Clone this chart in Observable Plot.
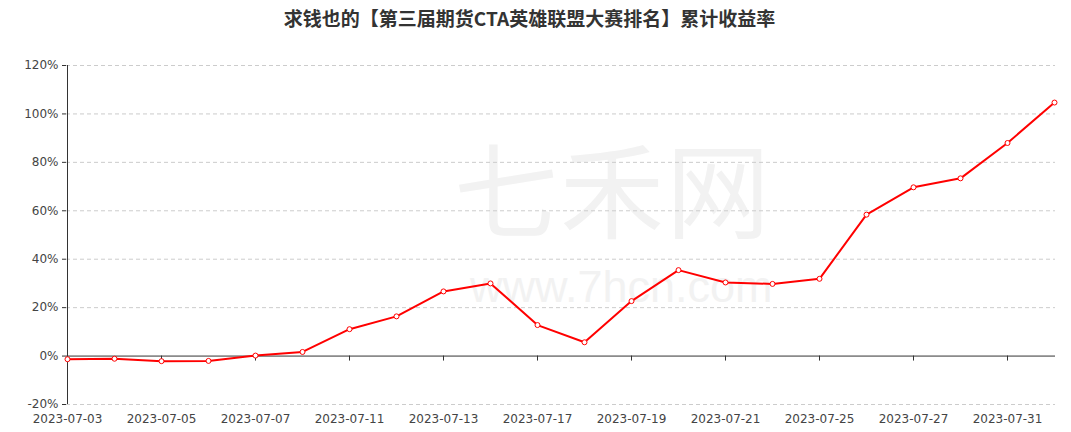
<!DOCTYPE html>
<html>
<head>
<meta charset="utf-8">
<script src="https://cdn.jsdelivr.net/npm/d3@7"></script>
<script src="https://cdn.jsdelivr.net/npm/@observablehq/plot@0.6"></script>
<style>
  html, body { margin: 0; padding: 0; background: #fff; }
  #wrap { position: relative; width: 1071px; height: 432px; overflow: hidden; }
  #title { height: 40px; line-height: 36px; text-align: center; font-family: "Noto Sans CJK SC", sans-serif; font-weight: bold; font-size: 19px; color: #333; padding-right: 12px; }
  #wm1 { position: absolute; left: 454px; top: 134px; font-family: "Noto Sans CJK SC", sans-serif; font-size: 104px; color: #f2f2f2; letter-spacing: 2px; line-height: 1; z-index: 0; }
  #wm2 { position: absolute; left: 470px; top: 264px; font-family: "Liberation Sans", sans-serif; font-size: 45px; color: #f2f2f2; line-height: 1; z-index: 0; }
  #chart { position: relative; z-index: 1; }
</style>
</head>
<body>
<div id="wrap">
  <div id="title"></div>
  <div id="wm1">七禾网</div>
  <div id="wm2">www.7hcn.com</div>
  <div id="chart"></div>
</div>
<script>
const title = "求钱也的【第三届期货CTA英雄联盟大赛排名】累计收益率";
const dates = ["2023-07-03","2023-07-04","2023-07-05","2023-07-06","2023-07-07","2023-07-10","2023-07-11","2023-07-12","2023-07-13","2023-07-14","2023-07-17","2023-07-18","2023-07-19","2023-07-20","2023-07-21","2023-07-24","2023-07-25","2023-07-26","2023-07-27","2023-07-28","2023-07-31","2023-08-01"];
const returns = [-1.3,-1.1,-2.1,-2.0,0.2,1.7,11.1,16.4,26.7,30.0,12.8,5.7,22.7,35.5,30.4,29.8,31.9,58.4,69.7,73.4,88.0,104.7];
const labeledDates = ["2023-07-03","2023-07-05","2023-07-07","2023-07-11","2023-07-13","2023-07-17","2023-07-19","2023-07-21","2023-07-25","2023-07-27","2023-07-31"];
const yTicks = [-20,0,20,40,60,80,100,120];

document.getElementById("title").textContent = title;
const data = dates.map((d, i) => ({date: d, value: returns[i]}));

const chart = Plot.plot({
  width: 1071,
  height: 392,
  marginTop: 25,
  marginBottom: 28,
  marginLeft: 66,
  marginRight: 16,
  style: "background: transparent; font-family: 'DejaVu Sans', sans-serif; font-size: 12px; color: #444;",
  x: {type: "point", domain: dates, padding: 0, label: null},
  y: {domain: [-20, 120], label: null},
  marks: [
    Plot.gridY(yTicks.filter(t => t !== 0), {stroke: "#ccc", strokeOpacity: 1, strokeDasharray: "4,3"}),
    Plot.ruleY([0], {stroke: "#333", strokeWidth: 1}),
    Plot.ruleX([dates[0]], {y1: -20, y2: 120, stroke: "#333", strokeWidth: 1}),
    Plot.ruleX(labeledDates.slice(1), {x: d => d, y1: 0, y2: 0, insetBottom: -5, stroke: "#333"}),
    Plot.axisY({ticks: yTicks, tickSize: 4, tickPadding: 4, tickFormat: d => d + "%", stroke: "#333", fill: "#444"}),
    Plot.axisX({ticks: labeledDates, tickSize: 0, tickPadding: 10, fill: "#444", style: "letter-spacing: 0.3px"}),
    Plot.line(data, {x: "date", y: "value", stroke: "#ff0000", strokeWidth: 2}),
    Plot.dot(data, {x: "date", y: "value", r: 2.5, fill: "white", stroke: "#ff0000", strokeWidth: 1})
  ]
});
document.getElementById("chart").appendChild(chart);
</script>
</body>
</html>
